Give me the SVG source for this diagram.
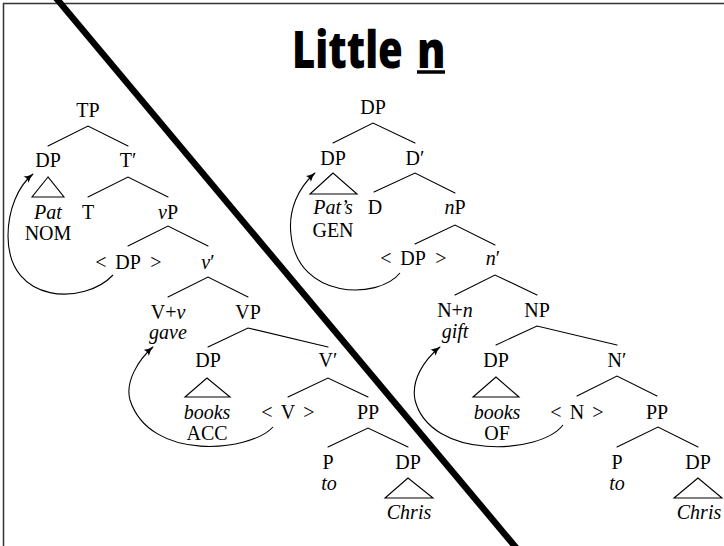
<svg xmlns="http://www.w3.org/2000/svg" width="724" height="546" viewBox="0 0 724 546">
  <defs>
    <style>
      text.lbl { font-family: 'Liberation Serif', 'Times New Roman', serif; font-size: 20px; fill: #000; text-anchor: middle; }
      .it { font-style: italic; }
      .br { stroke: #000; stroke-width: 1.1; fill: none; stroke-linecap: round; }
      .tri { stroke: #000; stroke-width: 1.1; fill: none; stroke-linejoin: miter; }
      .mv { stroke: #000; stroke-width: 1.1; fill: none; marker-end: url(#tip); }
      text.title { font-family: 'Open Sans', 'DejaVu Sans', sans-serif; font-weight: 800; font-size: 52px; fill: #000; }
    </style>
    <marker id="tip" viewBox="0 0 10 8" refX="9" refY="4" markerWidth="10" markerHeight="8" markerUnits="userSpaceOnUse" orient="auto">
      <path d="M0,0 Q4,3 10,4 Q4,5 0,8 Q2.5,4 0,0 z" fill="#000"/>
    </marker>
  </defs>

  <rect width="724" height="546" fill="#fff"/>

  <!-- slide frame -->
  <path d="M3.5,550 V3.5 H730" fill="none" stroke="#333" stroke-width="1.5"/>

  <!-- title -->
  <g id="title">
    <text class="title" transform="translate(292,68) scale(0.77,1)">Little</text>
    <text class="title" transform="translate(417,68) scale(0.82,1)">n</text>
    <line x1="417" y1="72" x2="445" y2="72" stroke="#000" stroke-width="3.5"/>
  </g>

  <!-- branches and movement arrows -->
  <g id="connectors">
    <!-- clause tree -->
    <path class="br" d="M48,146 L88,126 L128,146"/>
    <path class="br" d="M88,197 L128,177 L168,197"/>
    <path class="br" d="M128,246 L168,226 L208,246"/>
    <path class="br" d="M168,297 L208,277 L248,297"/>
    <path class="br" d="M208,347 L248,328 L328,347"/>
    <path class="br" d="M288,397 L328,378 L368,397"/>
    <path class="br" d="M328,447 L368,428 L408,447"/>
    <path class="mv" d="M113,275 C85,305 8,305 8,236 C8,210 18,186 33,174"/>
    <path class="mv" d="M273,427 C250,452 150,462 130,400 C125,382 138,360 153,347"/>

    <!-- nominal tree -->
    <path class="br" d="M333,143 L373,123 L415,143"/>
    <path class="br" d="M374,192 L415,173 L455,193"/>
    <path class="br" d="M415,244 L455,225 L495,245"/>
    <path class="br" d="M455,295 L495,275 L537,295"/>
    <path class="br" d="M496,345 L537,326 L617,345"/>
    <path class="br" d="M577,396 L617,376 L657,396"/>
    <path class="br" d="M617,447 L658,427 L698,447"/>
    <path class="mv" d="M400,273 C378,300 298,300 291,235 C288,210 298,188 315,173"/>
    <path class="mv" d="M563,425 C540,455 430,460 415,400 C411,380 424,360 440,347"/>
  </g>

  <!-- clause tree nodes -->
  <g id="TP"><text class="lbl" x="88" y="117">TP</text></g>
  <g id="DP-subj">
    <text class="lbl" x="48" y="167">DP</text>
    <path class="tri" d="M48,177 L32,197 L64,197 Z"/>
    <text class="lbl it" x="48" y="219">Pat</text>
    <text class="lbl" x="48" y="240">NOM</text>
  </g>
  <g id="Tbar"><text class="lbl" x="128" y="167">T′</text></g>
  <g id="T"><text class="lbl" x="88" y="219">T</text></g>
  <g id="vP"><text class="lbl" x="168" y="219"><tspan class="it">v</tspan>P</text></g>
  <g id="DP-trace"><text class="lbl" y="269"><tspan x="101">&lt;</tspan><tspan x="128">DP</tspan><tspan x="156">&gt;</tspan></text></g>
  <g id="vbar"><text class="lbl" x="208" y="269"><tspan class="it">v</tspan>′</text></g>
  <g id="V-v">
    <text class="lbl" x="168" y="319">V+<tspan class="it">v</tspan></text>
    <text class="lbl it" x="168" y="339">gave</text>
  </g>
  <g id="VP"><text class="lbl" x="248" y="319">VP</text></g>
  <g id="DP-obj">
    <text class="lbl" x="208" y="367">DP</text>
    <path class="tri" d="M207,378 L185,397 L230,397 Z"/>
    <text class="lbl it" x="207" y="419">books</text>
    <text class="lbl" x="207" y="440">ACC</text>
  </g>
  <g id="Vbar"><text class="lbl" x="328" y="367">V′</text></g>
  <g id="V-trace"><text class="lbl" y="419"><tspan x="267">&lt;</tspan><tspan x="288">V</tspan><tspan x="309">&gt;</tspan></text></g>
  <g id="PP-v"><text class="lbl" x="368" y="419">PP</text></g>
  <g id="P-v">
    <text class="lbl" x="328" y="469">P</text>
    <text class="lbl it" x="329" y="490">to</text>
  </g>
  <g id="DP-goal-v">
    <text class="lbl" x="408" y="469">DP</text>
    <path class="tri" d="M408,478 L385,498 L433,498 Z"/>
    <text class="lbl it" x="409" y="519">Chris</text>
  </g>

  <!-- nominal tree nodes -->
  <g id="DP-root"><text class="lbl" x="373" y="114">DP</text></g>
  <g id="DP-poss">
    <text class="lbl" x="333" y="165">DP</text>
    <path class="tri" d="M333,173 L310,194 L357,194 Z"/>
    <text class="lbl it" x="333" y="214">Pat’s</text>
    <text class="lbl" x="333" y="237">GEN</text>
  </g>
  <g id="Dbar"><text class="lbl" x="415" y="165">D′</text></g>
  <g id="D"><text class="lbl" x="375" y="214">D</text></g>
  <g id="nP"><text class="lbl" x="455" y="214"><tspan class="it">n</tspan>P</text></g>
  <g id="DP-trace-n"><text class="lbl" y="265"><tspan x="386">&lt;</tspan><tspan x="413">DP</tspan><tspan x="441">&gt;</tspan></text></g>
  <g id="nbar"><text class="lbl" x="493" y="265"><tspan class="it">n</tspan>′</text></g>
  <g id="N-n">
    <text class="lbl" x="455" y="317">N+<tspan class="it">n</tspan></text>
    <text class="lbl it" x="455" y="338">gift</text>
  </g>
  <g id="NP"><text class="lbl" x="537" y="317">NP</text></g>
  <g id="DP-of">
    <text class="lbl" x="496" y="367">DP</text>
    <path class="tri" d="M496,377 L473,397 L519,397 Z"/>
    <text class="lbl it" x="497" y="419">books</text>
    <text class="lbl" x="497" y="440">OF</text>
  </g>
  <g id="Nbar"><text class="lbl" x="617" y="367">N′</text></g>
  <g id="N-trace"><text class="lbl" y="419"><tspan x="556">&lt;</tspan><tspan x="577">N</tspan><tspan x="598">&gt;</tspan></text></g>
  <g id="PP-n"><text class="lbl" x="657" y="419">PP</text></g>
  <g id="P-n">
    <text class="lbl" x="617" y="469">P</text>
    <text class="lbl it" x="617" y="490">to</text>
  </g>
  <g id="DP-goal-n">
    <text class="lbl" x="698" y="469">DP</text>
    <path class="tri" d="M698,478 L674,498 L722,498 Z"/>
    <text class="lbl it" x="699" y="519">Chris</text>
  </g>

  <!-- dividing stroke -->
  <line x1="56" y1="-2" x2="518" y2="550" stroke="#000" stroke-width="6.5"/>
</svg>
